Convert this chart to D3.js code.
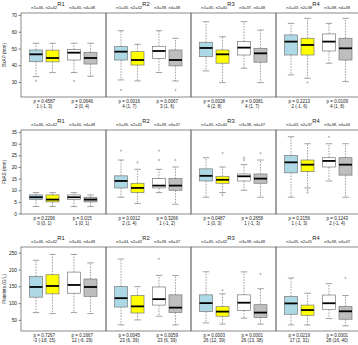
<!DOCTYPE html>
<html>
<head>
<meta charset="utf-8">
<script src="https://cdn.jsdelivr.net/npm/d3@7"></script>
<style>
  html, body { margin: 0; padding: 0; background: #fff; }
  svg { display: block; font-family: "Liberation Sans", Arial, sans-serif; }
</style>
</head>
<body>
<div id="chart"></div>
<script>
// regions and groups
const regions = ['R1', 'R2', 'R3', 'R4'];
const groupPos = [1, 2, 3.3, 4.3];
const groupFill = ['#add8e6', '#ffff00', '#ffffff', '#bebebe'];

// BxAP (mm) : [lower whisker, q1, median, q3, upper whisker]
const bxapStats = [
  [[33.2, 42.1, 46.5, 49.1, 53.1], [35.6, 42.0, 44.3, 49.0, 53.1], [35.6, 43.1, 47.5, 49.3, 53.1], [33.4, 40.7, 44.3, 47.7, 53.1]],
  [[31.2, 43.1, 48.1, 51.1, 60.6], [30.6, 40.1, 43.1, 48.1, 52.5], [35.6, 44.1, 48.5, 51.3, 60.6], [30.6, 39.6, 43.1, 49.1, 56.1]],
  [[36.6, 45.1, 50.3, 53.7, 66.0], [29.6, 41.2, 46.5, 49.1, 57.0], [38.2, 46.1, 50.5, 54.1, 66.0], [29.6, 41.8, 47.1, 50.1, 61.0]],
  [[34.2, 46.1, 54.1, 58.1, 65.0], [32.2, 46.1, 52.1, 56.1, 68.0], [41.2, 48.5, 54.1, 58.7, 65.0], [30.2, 43.1, 50.1, 56.1, 68.0]]
];
const bxapOut = [
  [[30.6], [], [30.6], []],
  [[25.2], [], [], [25.2]],
  [[], [], [], []],
  [[], [29.6], [], []]
];
const bxapN = [
  ['n1=46, n2=42', 'n3=40, n4=48'], ['n1=45, n2=42', 'n3=39, n4=48'],
  ['n1=45, n2=40', 'n3=37, n4=48'], ['n1=43, n2=38', 'n3=38, n4=48']
];
const bxapP = [
  [['p = 0.4587', '1 (-1, 3)'], ['p = 0.0646', '2 (0, 4)']],
  [['p = 0.0016', '4 (1, 7)'], ['p = 0.0067', '3 (1, 6)']],
  [['p = 0.0028', '4 (2, 8)'], ['p = 0.0081', '4 (1, 7)']],
  [['p = 0.2213', '2 (-1, 6)'], ['p = 0.0109', '4 (1, 8)']]
];
const bxapTicks = [30, 40, 50, 60, 70];

// FbAS (mm)
const fbasStats = [
  [[3, 6, 7, 8, 9], [3, 5, 6, 8, 9], [3, 6, 7, 8, 9], [3, 5, 6, 7, 8]],
  [[7, 11, 14, 16.2, 23], [4.3, 9, 11, 13, 19], [9, 11, 12, 15, 19], [4, 10, 12, 15, 20]],
  [[7, 14, 16.2, 19.2, 24], [9, 13, 14.5, 16, 20], [10, 14, 16, 17, 21], [7, 13, 15, 17, 23]],
  [[7, 17.5, 22, 25, 33], [11, 18, 21, 23, 30], [14, 20, 22.6, 24, 30], [7, 16.5, 21, 24, 30]]
];
const fbasOut = [
  [[], [], [], []],
  [[27], [22], [23, 27], [23]],
  [[], [26, 8], [23, 24], [26]],
  [[], [10, 9], [33], []]
];
const fbasN = [
  ['n1=46, n2=42', 'n3=40, n4=48'], ['n1=45, n2=41', 'n3=39, n4=47'],
  ['n1=45, n2=40', 'n3=38, n4=47'], ['n1=43, n2=37', 'n3=38, n4=44']
];
const fbasP = [
  [['p = 0.2296', '0 (0, 1)'], ['p = 0.015', '1 (0, 1)']],
  [['p = 0.0012', '2 (1, 4)'], ['p = 0.3266', '1 (-1, 2)']],
  [['p = 0.0487', '1 (0, 3)'], ['p = 0.2658', '1 (-1, 3)']],
  [['p = 0.2156', '1 (-1, 3)'], ['p = 0.1243', '2 (-1, 4)']]
];
const fbasTicks = [0, 5, 10, 15, 20, 25, 30, 35];

// Platelets (G/L)
const pltStats = [
  [[71.8, 117.6, 148, 179.4, 227.6], [68.8, 127.6, 151, 184.4, 245], [71.8, 129.4, 154, 192.3, 245], [68.8, 119.7, 148, 171.7, 219.7]],
  [[35.3, 88.3, 114.7, 149, 231.5], [50, 70.6, 90.3, 122.6, 149], [61, 94.1, 111.8, 148, 182.4], [35.3, 72, 86.5, 124.6, 182]],
  [[41.2, 74.7, 100, 124.6, 193.2], [37.4, 61, 74.7, 89.4, 127.6], [55, 78.5, 101.2, 124.6, 193], [37.4, 57, 71.8, 95.3, 143]],
  [[35, 66.8, 99.1, 119.7, 174.7], [35, 63.8, 79.4, 94.1, 129.4], [54.1, 80.6, 99.6, 124, 158], [32.4, 52, 75.6, 90.3, 122.6]]
];
const pltOut = [
  [[], [], [], []],
  [[], [], [232], []],
  [[], [138.2], [], [186.4]],
  [[], [], [], [174.7]]
];
const pltN = [
  ['n1=46, n2=42', 'n3=40, n4=48'], ['n1=44, n2=42', 'n3=39, n4=47'],
  ['n1=45, n2=42', 'n3=39, n4=48'], ['n1=45, n2=41', 'n3=39, n4=47']
];
const pltP = [
  [['p = 0.7267', '-3 (-18, 15)'], ['p = 0.1667', '12 (-6, 29)']],
  [['p = 0.0045', '23 (6, 39)'], ['p = 0.0059', '23 (6, 39)']],
  [['p = 0.0003', '26 (12, 39)'], ['p = 0.0001', '26 (13, 38)']],
  [['p = 0.0219', '17 (2, 31)'], ['p = 0.0001', '28 (16, 40)']]
];
const pltTicks = [50, 100, 150, 200, 250];

const rows = [
  { label: 'BxAP (mm)', stats: bxapStats, out: bxapOut, n: bxapN, p: bxapP, ticks: bxapTicks, domain: [21, 71.2], top: 13 },
  { label: 'FbAS (mm)', stats: fbasStats, out: fbasOut, n: fbasN, p: fbasP, ticks: fbasTicks, domain: [-0.2, 35.9], top: 130 },
  { label: 'Platelets (G/L)', stats: pltStats, out: pltOut, n: pltN, p: pltP, ticks: pltTicks, domain: [17, 267], top: 247 }
];

const W = 358, H = 345;
const left = 21, panelW = 85, panelH = 84;
const boxW = 13;
const frameCol = '#6e6e6e', boxCol = '#7a7a7a';

const svg = d3.select('#chart').append('svg')
  .attr('width', W).attr('height', H)
  .attr('viewBox', `0 0 ${W} ${H}`);

const x = d3.scaleLinear().domain([0.09, 5.24]).range([0, panelW]);

rows.forEach(row => {
  const y = d3.scaleLinear().domain(row.domain).range([row.top + panelH, row.top]);
  const g = svg.append('g');

  // y axis
  const axis = g.append('g').attr('transform', `translate(${left},0)`)
    .call(d3.axisLeft(y).tickValues(row.ticks).tickSize(2.5).tickPadding(1.5));
  axis.select('.domain').remove();
  axis.selectAll('line').attr('stroke', '#333').attr('stroke-width', 0.6);
  axis.selectAll('text').attr('font-size', 4.8).attr('fill', '#222');

  g.append('text')
    .attr('transform', `translate(5.5,${row.top + panelH / 2}) rotate(-90)`)
    .attr('text-anchor', 'middle')
    .attr('font-size', 4.7).attr('fill', '#222')
    .text(row.label);

  regions.forEach((reg, ri) => {
    const px = left + ri * panelW;
    const pg = g.append('g').attr('transform', `translate(${px},0)`);

    // title + n labels
    pg.append('text').attr('x', panelW / 2 - 2.5).attr('y', row.top - 6.6)
      .attr('text-anchor', 'middle').attr('font-size', 5.8).attr('fill', '#222').text(reg);
    [0, 1].forEach(k => {
      const cx = (x(groupPos[2 * k]) + x(groupPos[2 * k + 1])) / 2;
      pg.append('text').attr('x', cx).attr('y', row.top - 4)
        .attr('text-anchor', 'middle').attr('font-size', 4.2).attr('fill', '#222').text(row.n[ri][k]);
      row.p[ri][k].forEach((t, li) => {
        pg.append('text').attr('x', cx).attr('y', row.top + panelH + 6 + li * 4.9)
          .attr('text-anchor', 'middle').attr('font-size', 4.5).attr('fill', '#222').text(t);
      });
    });

    // boxes
    row.stats[ri].forEach((s, gi) => {
      const cx = x(groupPos[gi]);
      const [lo, q1, med, q3, hi] = s;
      pg.append('line').attr('x1', cx).attr('x2', cx).attr('y1', y(q3)).attr('y2', y(hi))
        .attr('stroke', boxCol).attr('stroke-width', 0.7).attr('stroke-dasharray', '1.6,1.2');
      pg.append('line').attr('x1', cx).attr('x2', cx).attr('y1', y(q1)).attr('y2', y(lo))
        .attr('stroke', boxCol).attr('stroke-width', 0.7).attr('stroke-dasharray', '1.6,1.2');
      [lo, hi].forEach(v => {
        pg.append('line').attr('x1', cx - boxW / 4).attr('x2', cx + boxW / 4)
          .attr('y1', y(v)).attr('y2', y(v))
          .attr('stroke', boxCol).attr('stroke-width', 0.7);
      });
      pg.append('rect').attr('x', cx - boxW / 2).attr('y', y(q3))
        .attr('width', boxW).attr('height', y(q1) - y(q3))
        .attr('fill', groupFill[gi]).attr('stroke', boxCol).attr('stroke-width', 0.7);
      pg.append('line').attr('x1', cx - boxW / 2).attr('x2', cx + boxW / 2)
        .attr('y1', y(med)).attr('y2', y(med))
        .attr('stroke', '#000').attr('stroke-width', 1.8);
      row.out[ri][gi].forEach(v => {
        pg.append('circle').attr('cx', cx).attr('cy', y(v)).attr('r', 0.7)
          .attr('fill', 'none').attr('stroke', '#777').attr('stroke-width', 0.5);
      });
    });

    pg.append('rect').attr('x', 0).attr('y', row.top).attr('width', panelW).attr('height', panelH)
      .attr('fill', 'none').attr('stroke', frameCol).attr('stroke-width', 0.8);
  });
});
</script>
</body>
</html>
